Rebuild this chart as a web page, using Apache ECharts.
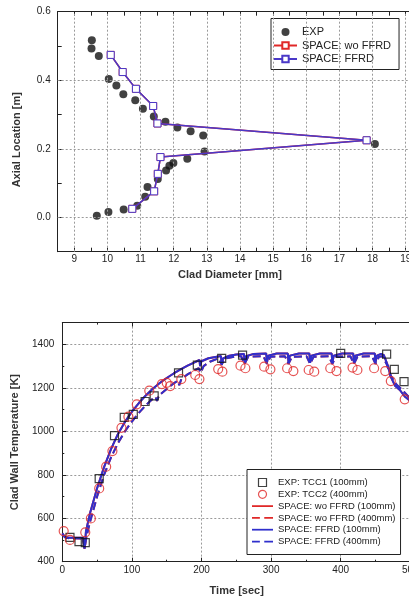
<!DOCTYPE html>
<html><head><meta charset="utf-8">
<script src="https://cdn.jsdelivr.net/npm/echarts@6/dist/echarts.min.js"></script>
<style>html,body{margin:0;padding:0;background:#fff;overflow:hidden}#c{width:460px;height:598px}</style>
</head><body><div id="c"></div>
<script>
// ---------- Top chart: clad diameter vs axial location ----------
const expDiameter = [9.53,9.52,9.74,10.04,10.27,10.48,10.84,11.07,11.40,11.75,12.11,12.51,12.89,18.07,12.93,12.41,11.99,11.87,11.77,11.52,11.21,11.14,10.90,10.49,10.03,9.68];
const expAxial    = [0.517,0.493,0.471,0.404,0.385,0.359,0.342,0.317,0.294,0.279,0.262,0.251,0.239,0.214,0.192,0.171,0.159,0.151,0.137,0.112,0.089,0.060,0.034,0.023,0.016,0.005];
const ffrdDiameter = [10.10,10.46,10.86,11.38,11.51,17.82,11.60,11.52,11.41,10.75];
const ffrdAxial    = [0.474,0.424,0.375,0.325,0.274,0.225,0.176,0.127,0.076,0.025];
const woDiameter = [10.10,10.46,10.86,11.38,11.51,17.82,11.60,11.52,11.41,10.75];
const woAxial    = [0.474,0.424,0.375,0.325,0.274,0.225,0.176,0.127,0.076,0.025];
const diamGridValues = [9,10,11,12,13,14,15,16,17,18,19];
const axialGridValues = [0,0.2,0.4];

// ---------- Bottom chart: clad wall temperature vs time ----------
const tcc1Time = [11,24,33,53,75,89,102,119,132,167,194,229,259,400,466,477,491];
const tcc1Temp = [512,492,488,782,980,1064,1078,1137,1163,1269,1304,1335,1350,1358,1355,1285,1228];
const tcc2Time = [2,11,33,41,53,63,72,85,95,107,125,143,150,155,171,191,197,224,230,256,263,290,299,323,332,354,362,385,394,417,424,448,464,472,492];
const tcc2Temp = [541,500,535,599,737,837,909,1016,1067,1124,1187,1217,1223,1208,1240,1259,1240,1286,1274,1302,1290,1297,1285,1290,1277,1282,1274,1290,1277,1293,1282,1290,1277,1231,1147];
const ffrd100Time = [0,4,10,30,32,34,40,50,60,70,80,90,100,110,120,130,140,150,160,170,180,190,197,198,200,210,220,228,229,231,240,250,261,262,264,275,293,294,296,308,324,325,327,340,355,356,358,370,387,388,390,402,418,419,421,433,449,450,452,458,462,468,472,478,485,492,500,510,530];
const ffrd100Temp = [530,513,510,510,460,540,625,738,835,918,988,1043,1090,1130,1165,1196,1222,1245,1266,1285,1302,1317,1328,1300,1322,1336,1342,1346,1305,1335,1348,1353,1356,1312,1345,1356,1358,1315,1348,1358,1358,1315,1348,1358,1358,1315,1348,1358,1358,1315,1348,1358,1358,1315,1348,1358,1358,1315,1348,1356,1350,1300,1250,1210,1190,1160,1140,1120,1080];
const ffrd400Time = [0,4,10,30,32,35,40,50,60,70,80,90,100,110,120,130,134,136,139,150,160,166,168,171,180,190,196,199,203,212,224,229,234,250,257,262,267,289,294,299,320,325,330,351,356,361,383,388,393,414,419,424,445,450,455,460,466,472,480,490,500,510,530];
const ffrd400Temp = [525,512,508,506,460,520,585,700,800,880,945,1000,1045,1085,1120,1150,1158,1140,1165,1195,1220,1232,1212,1240,1262,1280,1290,1270,1300,1320,1335,1308,1335,1345,1345,1310,1343,1345,1310,1343,1345,1310,1343,1345,1310,1343,1345,1310,1343,1345,1310,1343,1345,1310,1343,1345,1310,1255,1215,1185,1150,1125,1085];
const wo100Time = ffrd100Time, wo100Temp = ffrd100Temp;
const wo400Time = ffrd400Time, wo400Temp = ffrd400Temp;

const zip = (a, b) => a.map((v, i) => [v, b[i]]);
const FONT = '"Liberation Sans", Arial, sans-serif';
const AX = '#222';
const GRIDC = '#9a9a9a';
const BLUE = '#2f2fcc', RED = '#e02828', PURPLE = '#4a38c8';
const ICON_SOLID = 'path://M0,0L24,0L24,2L0,2Z';
const ICON_DASH = 'path://M0,0L9,0L9,2L0,2Z M14,0L24,0L24,2L14,2Z';
const ICON_SQUARE = 'path://M0,0L10,0L10,10L0,10Z';

const chart = echarts.init(document.getElementById('c'), null, {renderer: 'canvas'});

function baseAxis(extra) {
  return Object.assign({
    axisLine: {show: true, onZero: false, lineStyle: {color: AX, width: 1}},
    axisTick: {show: true, inside: true, length: 4, lineStyle: {color: AX}},
    axisLabel: {fontSize: 10, color: AX, fontFamily: FONT},
    splitLine: {show: false},
    nameTextStyle: {fontSize: 11, fontWeight: 'bold', color: '#333', fontFamily: FONT}
  }, extra);
}

const option = {
  animation: false,
  backgroundColor: '#fff',
  textStyle: {fontFamily: FONT},
  grid: [
    {left: 57.7, top: 11.7, right: 37.7, bottom: 346.3, containLabel: false},
    {left: 62.3, top: 322.6, right: 14.9, bottom: 36.3, containLabel: false}
  ],
  xAxis: [
    baseAxis({gridIndex: 0, type: 'value', min: 8.5, max: 19.5, interval: 0.5,
      name: 'Clad Diameter [mm]', nameLocation: 'middle', nameGap: 18,
      nameTextStyle: {fontSize: 11, fontWeight: 'bold', color: '#333', fontFamily: FONT, padding: [0, 20, 0, 0]},
      axisLabel: {fontSize: 10, color: AX, fontFamily: FONT, margin: 3,
        formatter: v => Math.abs(v - Math.round(v)) < 1e-6 ? String(Math.round(v)) : ''}}),
    baseAxis({gridIndex: 0, type: 'value', position: 'top', min: 8.5, max: 19.5, interval: 0.5,
      axisLabel: {show: false}}),
    baseAxis({gridIndex: 1, type: 'value', min: 0, max: 550, interval: 100,
      name: 'Time [sec]', nameLocation: 'middle', nameGap: 24,
      nameTextStyle: {fontSize: 11, fontWeight: 'bold', color: '#333', fontFamily: FONT, padding: [0, 34, 0, 0]},
      minorTick: {show: true, splitNumber: 2, length: 2, lineStyle: {color: AX}},
      axisLabel: {fontSize: 10, color: AX, fontFamily: FONT, margin: 4, formatter: v => String(v)},
      splitLine: {show: true, lineStyle: {color: GRIDC, type: [2, 2], width: 1}}}),
    baseAxis({gridIndex: 1, type: 'value', position: 'top', min: 0, max: 550, interval: 100,
      minorTick: {show: true, splitNumber: 2, length: 2, lineStyle: {color: AX}},
      axisLabel: {show: false}})
  ],
  yAxis: [
    baseAxis({gridIndex: 0, type: 'value', min: -0.1, max: 0.6, interval: 0.1,
      name: 'Axial Location [m]', nameLocation: 'middle', nameGap: 35,
      nameTextStyle: {fontSize: 11, fontWeight: 'bold', color: '#333', fontFamily: FONT, padding: [0, 16, 0, 0]},
      axisLabel: {fontSize: 10, color: AX, fontFamily: FONT, margin: 7,
        formatter: v => { const k = Math.round(v * 10); return (k >= 0 && k % 2 === 0) ? (k / 10).toFixed(1) : ''; }}}),
    baseAxis({gridIndex: 1, type: 'value', min: 400, max: 1500, interval: 200,
      name: 'Clad Wall Temperature [K]', nameLocation: 'middle', nameGap: 42,
      minorTick: {show: true, splitNumber: 2, length: 2, lineStyle: {color: AX}},
      axisLabel: {fontSize: 10, color: AX, fontFamily: FONT, margin: 8,
        formatter: v => (v > 1450 ? '' : String(v))},
      splitLine: {show: true, lineStyle: {color: GRIDC, type: [2, 2], width: 1}}})
  ],
  legend: [
    {
      data: ['EXP', 'SPACE: wo FFRD', 'SPACE: FFRD'],
      orient: 'vertical', left: 271, top: 18.5,
      padding: [8, 8, 5, 2], itemGap: 2.5, itemWidth: 23, itemHeight: 8,
      borderColor: '#222', borderWidth: 1, backgroundColor: '#fff',
      textStyle: {fontSize: 11, color: '#222', fontFamily: FONT},
      selectedMode: false
    },
    {
      data: [
        {name: 'EXP: TCC1 (100mm)', icon: ICON_SQUARE, itemStyle: {color: 'rgba(255,255,255,0)', borderColor: '#111', borderWidth: 1.2}},
        {name: 'EXP: TCC2 (400mm)', icon: 'circle', itemStyle: {color: 'rgba(255,255,255,0)', borderColor: RED, borderWidth: 1.2}},
        {name: 'SPACE: wo FFRD (100mm)', icon: ICON_SOLID, itemStyle: {color: RED, borderWidth: 0}},
        {name: 'SPACE: wo FFRD (400mm)', icon: ICON_DASH, itemStyle: {color: RED, borderWidth: 0}},
        {name: 'SPACE: FFRD (100mm)', icon: ICON_SOLID, itemStyle: {color: BLUE, borderWidth: 0}},
        {name: 'SPACE: FFRD (400mm)', icon: ICON_DASH, itemStyle: {color: BLUE, borderWidth: 0}}
      ],
      orient: 'vertical', left: 247, top: 469.5,
      padding: [8, 5, 8, 5], itemGap: 1.8, itemWidth: 21, itemHeight: 8,
      borderColor: '#222', borderWidth: 1, backgroundColor: '#fff',
      textStyle: {fontSize: 9.5, color: '#222', fontFamily: FONT},
      selectedMode: false
    }
  ],
  series: [
    // gridlines of the top chart (drawn through the axes' own scales)
    {type: 'line', xAxisIndex: 0, yAxisIndex: 0, data: [], z: 0, silent: true,
      markLine: {silent: true, symbol: 'none', label: {show: false}, animation: false,
        lineStyle: {color: GRIDC, type: [2, 2], width: 1},
        data: diamGridValues.map(v => ({xAxis: v})).concat(axialGridValues.map(v => ({yAxis: v})))}},
    {name: 'EXP', type: 'scatter', xAxisIndex: 0, yAxisIndex: 0, data: zip(expDiameter, expAxial),
      symbol: 'circle', symbolSize: 8, itemStyle: {color: '#111'}, z: 3},
    {name: 'SPACE: wo FFRD', type: 'line', xAxisIndex: 0, yAxisIndex: 0, data: zip(woDiameter, woAxial),
      symbol: 'rect', symbolSize: 7, showAllSymbol: true,
      lineStyle: {color: RED, width: 1.5}, itemStyle: {color: '#fff', borderColor: RED, borderWidth: 1}, z: 4},
    {name: 'SPACE: FFRD', type: 'line', xAxisIndex: 0, yAxisIndex: 0, data: zip(ffrdDiameter, ffrdAxial),
      symbol: 'rect', symbolSize: 7, showAllSymbol: true,
      lineStyle: {color: PURPLE, width: 1.5}, itemStyle: {color: '#fff', borderColor: PURPLE, borderWidth: 1}, z: 5},

    // bottom chart
    {name: 'SPACE: wo FFRD (100mm)', type: 'line', xAxisIndex: 2, yAxisIndex: 1, data: zip(wo100Time, wo100Temp),
      symbol: 'none', lineStyle: {color: RED, width: 2}, itemStyle: {color: RED}, z: 3},
    {name: 'SPACE: wo FFRD (400mm)', type: 'line', xAxisIndex: 2, yAxisIndex: 1, data: zip(wo400Time, wo400Temp),
      symbol: 'none', lineStyle: {color: RED, width: 2, type: [8, 4]}, itemStyle: {color: RED}, z: 3},
    {name: 'SPACE: FFRD (100mm)', type: 'line', xAxisIndex: 2, yAxisIndex: 1, data: zip(ffrd100Time, ffrd100Temp),
      symbol: 'none', lineStyle: {color: BLUE, width: 2}, itemStyle: {color: BLUE}, z: 4},
    {name: 'SPACE: FFRD (400mm)', type: 'line', xAxisIndex: 2, yAxisIndex: 1, data: zip(ffrd400Time, ffrd400Temp),
      symbol: 'none', lineStyle: {color: BLUE, width: 2, type: [8, 4]}, itemStyle: {color: BLUE}, z: 4},
    {name: 'EXP: TCC1 (100mm)', type: 'scatter', xAxisIndex: 2, yAxisIndex: 1, data: zip(tcc1Time, tcc1Temp),
      symbol: 'rect', symbolSize: 8, itemStyle: {color: 'rgba(255,255,255,0)', borderColor: '#111', borderWidth: 1.2}, z: 5},
    {name: 'EXP: TCC2 (400mm)', type: 'scatter', xAxisIndex: 2, yAxisIndex: 1, data: zip(tcc2Time, tcc2Temp),
      symbol: 'circle', symbolSize: 9, itemStyle: {color: 'rgba(255,255,255,0)', borderColor: RED, borderWidth: 1.2}, z: 5}
  ]
};
chart.setOption(option);
</script></body></html>
